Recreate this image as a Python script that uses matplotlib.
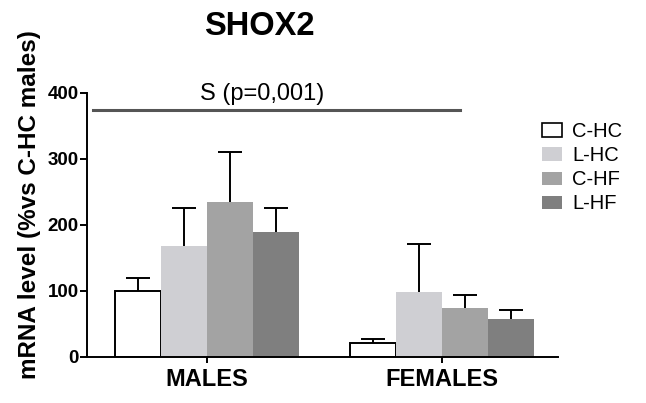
import numpy as np
import matplotlib
matplotlib.use('Agg')
import matplotlib.pyplot as plt
from matplotlib.patches import Patch

groups = ['MALES', 'FEMALES']
series = ['C-HC', 'L-HC', 'C-HF', 'L-HF']
means = {
    'C-HC': [100, 20],
    'L-HC': [167, 98],
    'C-HF': [235, 74],
    'L-HF': [189, 57],
}
errs = {
    'C-HC': [19, 6],
    'L-HC': [59, 73],
    'C-HF': [75, 20],
    'L-HF': [36, 13],
}
colors = {'C-HC': 'white', 'L-HC': '#cfcfd3', 'C-HF': '#a3a3a3', 'L-HF': '#7f7f7f'}
sig_label = 'S (p=0,001)'
sig_level = 374

plt.rcParams['font.family'] = ['Liberation Sans', 'DejaVu Sans']

fig = plt.figure(figsize=(6.46, 4.03), dpi=100)
ax = fig.add_axes([0.1347, 0.115, 0.7291, 0.655])

x = np.arange(len(groups))
w = 0.196
for i, s in enumerate(series):
    pos = x + (i - 1.5) * w
    if s == 'C-HC':
        ax.bar(pos, means[s], w, color='white', edgecolor='black', linewidth=1.4, zorder=2)
    else:
        ax.bar(pos, means[s], w, color=colors[s], linewidth=0, zorder=2)
    # symmetric bars drawn behind the columns, so only the upper half shows
    ax.errorbar(pos, means[s], yerr=errs[s], fmt='none',
                ecolor='black', elinewidth=1.4, capsize=8.5, capthick=1.4, zorder=1)

ax.set_xlim(-0.509, 1.495)
ax.set_ylim(0, 400)
ax.set_yticks([0, 100, 200, 300, 400])
ax.set_xticks(x)
ax.set_xticklabels(groups, fontsize=17, fontweight='bold')
for lab in ax.get_yticklabels():
    lab.set_fontweight('bold')
    lab.set_fontsize(13.5)
ax.tick_params(axis='y', length=5, width=1.4, pad=1)
ax.tick_params(axis='x', length=4, width=1.4, pad=4)
for sp in ['top', 'right']:
    ax.spines[sp].set_visible(False)
for sp in ['left', 'bottom']:
    ax.spines[sp].set_linewidth(1.4)

ax.set_ylabel('mRNA level (%vs C-HC males)', fontsize=17.5, fontweight='bold')
ax.yaxis.set_label_coords(-0.098, 0.575)

# significance line
ax.plot([-0.484, 1.078], [sig_level, sig_level], color='#555555', linewidth=2.2, clip_on=False)
ax.text(0.235, 398, sig_label, fontsize=17, ha='center', va='center', clip_on=False)

fig.text(0.402, 0.935, 'SHOX2', fontsize=23.5, fontweight='bold', ha='center', va='center')

handles = [Patch(facecolor=colors[s], edgecolor='black' if s == 'C-HC' else 'none',
                 linewidth=1.2 if s == 'C-HC' else 0) for s in series]
ax.legend(handles, series, loc='upper left', bbox_to_anchor=(0.966, 0.888), frameon=False,
          fontsize=14.5, handlelength=1.0, handleheight=0.65, handletextpad=0.5,
          labelspacing=0.25, borderaxespad=0, borderpad=0)

fig.savefig('out.png', dpi=100)
